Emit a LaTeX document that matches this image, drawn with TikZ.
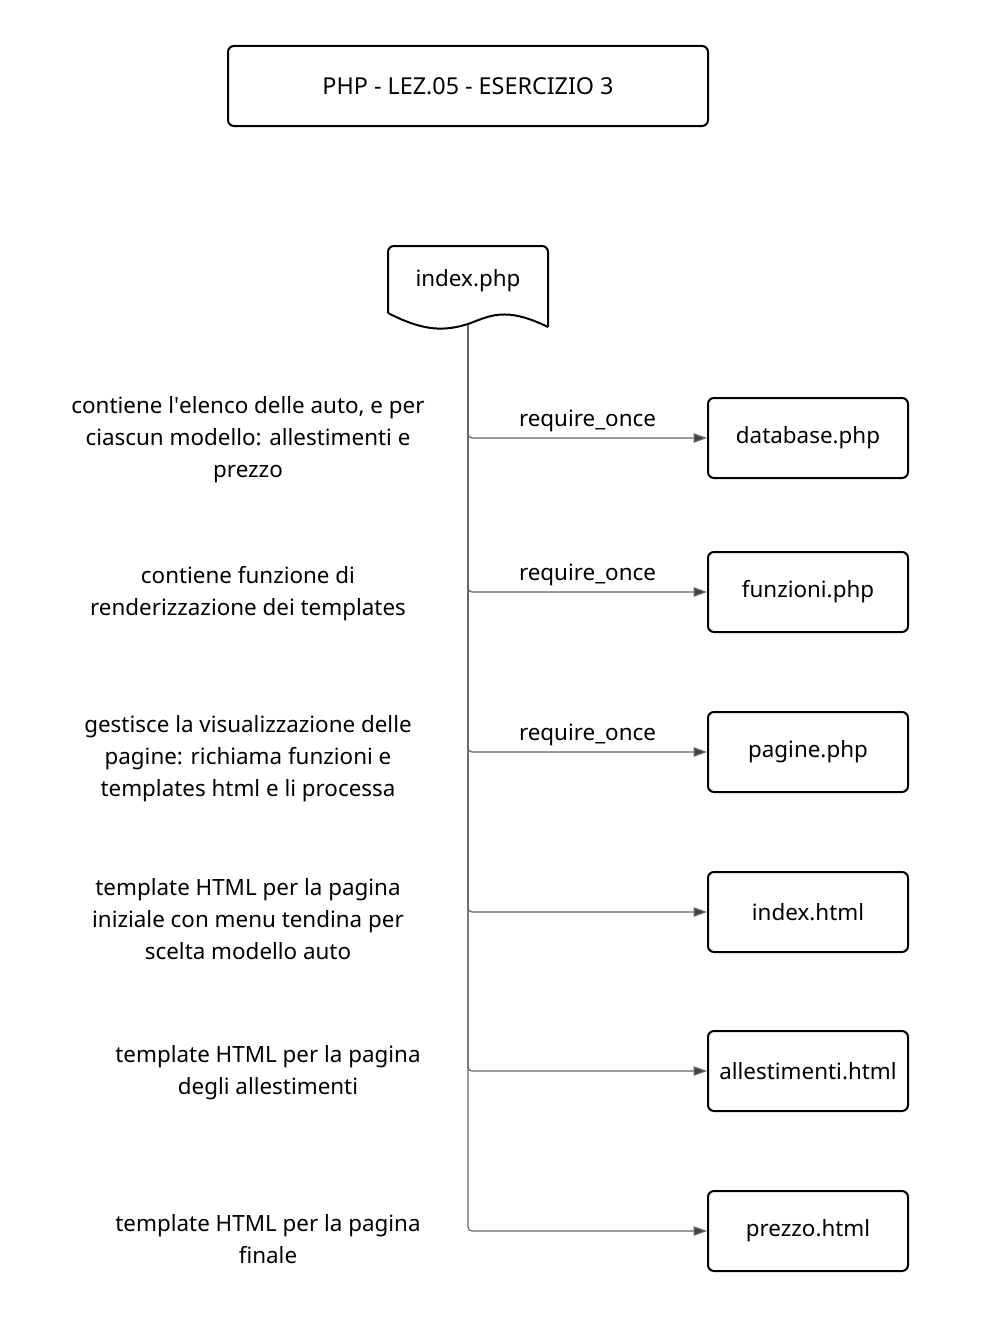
\documentclass[tikz,border=0pt]{standalone}
\usepackage{fontspec}
\setmainfont{Noto Sans}
\usetikzlibrary{arrows.meta}

\tikzset{
  filebox/.style={draw, line width=1.5pt, rounded corners=4.5pt, minimum width=150pt, minimum height=60pt, font=\fontsize{16.8}{20}\selectfont},
  note/.style={align=center, font=\fontsize{16.8}{24}\selectfont},
  conn/.style={draw=black!60, line width=0.9pt, rounded corners=3pt, -{Triangle[length=10pt,width=7pt,fill=black!75]}},
  lbl/.style={font=\fontsize{16.8}{20}\selectfont}
}

\begin{document}
\begin{tikzpicture}[x=0.75pt, y=-0.75pt]
            \useasboundingbox (0,0) rectangle (999,1338);

            % Title
            \node[filebox, minimum width=360pt, font=\fontsize{17.5}{20}\selectfont] (title) at (468,86) {PHP - LEZ.05 - ESERCIZIO 3};

            % Document node
            \node[lbl, minimum width=120pt, minimum height=50pt] (idx) at (468,281) {index.php};
            \draw[line width=1.5pt, rounded corners=4.5pt] (388,313) -- (388,246) -- (548,246) -- (548,327);
            \draw[line width=1.5pt] (388,313) .. controls (425,332) and (445,331) .. (468,324)
                .. controls (490,316) and (505,306) .. (548,327);
            \coordinate (idxb) at (468,325);

            % Files
            \node[filebox] (db) at (808,438) {database.php};
            \node[filebox] (fn) at (808,592) {funzioni.php};
            \node[filebox] (pg) at (808,752) {pagine.php};
            \node[filebox] (ih) at (808,912) {index.html};
            \node[filebox] (al) at (808,1071) {allestimenti.html};
            \node[filebox] (pr) at (808,1231) {prezzo.html};

            % Lines
            \draw[conn] (idxb) |- (db.west) node[lbl, pos=0.75, above=1pt] (r1) {require\_once};
            \draw[conn] (idxb) |- (fn.west) node[lbl, pos=0.75, above=1pt] (r2) {require\_once};
            \draw[conn] (idxb) |- (pg.west) node[lbl, pos=0.75, above=1pt] (r3) {require\_once};
            \draw[conn] (idxb) |- (ih.west);
            \draw[conn] (idxb) |- (al.west);
            \draw[conn] (idxb) |- (pr.west);

            % Notes
            \node[note] (n1) at (248,440) {contiene l\textquotesingle elenco delle auto, e per\\ciascun modello: allestimenti e\\prezzo};
            \node[note] (n2) at (248,594) {contiene funzione di\\renderizzazione dei templates};
            \node[note] (n3) at (248,759) {gestisce la visualizzazione delle\\pagine: richiama funzioni e\\templates html e li processa};
            \node[note] (n4) at (248,919) {template HTML per la pagina\\iniziale con menu tendina per\\scelta modello auto};
            \node[note] (n5) at (268,1073) {template HTML per la pagina\\degli allestimenti};
            \node[note] (n6) at (268,1239) {template HTML per la pagina\\finale};
        \end{tikzpicture}
\end{document}
